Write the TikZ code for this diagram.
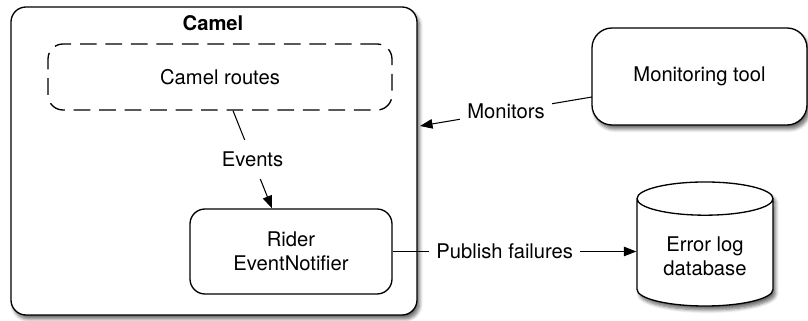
\documentclass[tikz,border=0pt]{standalone}
\usepackage{fontspec}
\setmainfont{TeX Gyre Heros}
\usepackage{tikz}
\usetikzlibrary{arrows.meta,positioning,shapes.geometric,shadows.blur}

\begin{document}
\begin{tikzpicture}[>={Triangle[length=2.5mm,width=1.9mm]},
  font=\fontsize{11.5}{13.5}\selectfont,
  shd/.style={blur shadow={shadow xshift=0.5mm,shadow yshift=-0.8mm,shadow blur radius=0.7mm,shadow blur steps=6,shadow opacity=60}},
  box/.style={rectangle,draw,line width=0.75pt,rounded corners=3mm,fill=white,align=center},
  dbase/.style={cylinder,shape border rotate=90,aspect=0.35,draw,line width=0.75pt,fill=white,align=center},
  lbl/.style={fill=white,inner sep=4pt}]
  \useasboundingbox (0,0) rectangle (16.16,6.42);
  \node[box,shd,minimum width=8.12cm,minimum height=6.16cm] (camel) at (4.28,3.20) {};
  \node[font=\fontsize{11.5}{13.5}\selectfont\bfseries] (camelname) at (4.26,5.96) {Camel};
  \node[box,dashed,dash pattern=on 9.5pt off 5pt,minimum width=6.88cm,minimum height=1.32cm] (routes) at (4.40,4.88) {Camel routes};
  \node[box,minimum width=4.04cm,minimum height=1.70cm] (rider) at (5.82,1.39) {Rider\\EventNotifier};
  \node[box,shd,rounded corners=4mm,minimum width=4.30cm,minimum height=1.94cm] (montool) at (13.99,4.89) {Monitoring tool};
  \node[dbase,shd,minimum width=2.72cm,minimum height=2.48cm] (errdb) at (14.10,1.30) {Error log\\database};
  \coordinate (monout) at (11.84,4.48);
  \coordinate (camin) at (8.40,3.90);
  \draw[->,line width=0.6pt] (routes.south -| 4.66,0) -- node[lbl,inner sep=7pt]{Events} (rider.north -| 5.44,0);
  \draw[->,line width=0.6pt] (monout) -- node[lbl]{Monitors} (camin);
  \draw[->,line width=0.6pt] (rider.east) -- node[lbl,pos=0.46]{Publish failures} (rider.east -| errdb.west);
\end{tikzpicture}
\end{document}
